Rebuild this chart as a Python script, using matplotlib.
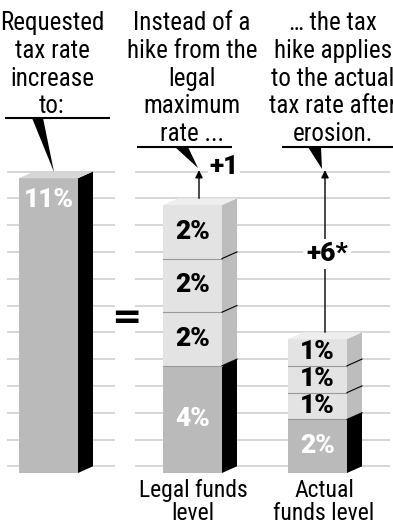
import matplotlib.pyplot as plt
from matplotlib.patches import Polygon

# values in percentage points
requested = [11]
legal_segments = [4, 2, 2, 2]
actual_segments = [2, 1, 1, 1]
gridline_levels = list(range(0, 12))

headers = [
    "Requested\ntax rate\nincrease\nto:",
    "Instead of a\nhike from the\nlegal\nmaximum\nrate ...",
    "\u2026 the tax\nhike applies\nto the actual\ntax rate after\nerosion.",
]
bottom_labels = ["Legal funds\nlevel", "Actual\nfunds level"]

# layout, figure in pixels, y axis in percent
W, H = 393, 524
BASE = 473
PX = 26.8
DX, DY = 15, 0.25
BAR_W = 59

DARK = '#bababa'
LIGHT = '#e3e3e3'
GRID = '#cfcfcf'

NARROW = ['Roboto Condensed', 'DejaVu Sans']
HEAVY = ['Roboto', 'DejaVu Sans']


def py(p):
    # pixel row -> percent units
    return (BASE - p) / PX


fig = plt.figure(figsize=(W / 100, H / 100), dpi=100)
ax = fig.add_axes([0, 0, 1, 1])
ax.set_xlim(0, W)
ax.set_ylim(py(H), py(0))
ax.axis('off')

# gridlines on the back wall
for k in gridline_levels:
    ax.plot([7, 115], [k + DY, k + DY], color=GRID, lw=1.2, zorder=1, solid_capstyle='butt')
    ax.plot([135, 390], [k + DY, k + DY], color=GRID, lw=1.2, zorder=1, solid_capstyle='butt')


def draw_stack(x0, segments, dark_first=True):
    bottom = 0
    for i, v in enumerate(segments):
        is_dark = dark_first and i == 0
        front = DARK if is_dark else LIGHT
        side = 'black' if is_dark else '#bdbdbd'
        ax.bar(x0, v, width=BAR_W, bottom=bottom, align='edge', color=front,
               lw=0, zorder=3)
        x1 = x0 + BAR_W
        ax.add_patch(Polygon([(x1, bottom), (x1 + DX, bottom + DY),
                              (x1 + DX, bottom + v + DY), (x1, bottom + v)],
                             closed=True, fc=side, ec='none', zorder=3))
        if i > 0:
            ax.plot([x0, x1], [bottom, bottom], color='#9a9a9a', lw=0.8, zorder=4)
            ax.plot([x1, x1 + DX], [bottom, bottom + DY], color='black', lw=0.8, zorder=4)
        # a lone tall bar carries its label near the top
        ly = bottom + v - 0.8 if len(segments) == 1 else bottom + v / 2
        ax.text(x0 + BAR_W / 2, ly, f"{v}%",
                color='white' if is_dark else 'black', fontsize=19,
                fontweight=900, family=HEAVY, ha='center', va='center', zorder=5)
        bottom += v
    top_col = '#d6d6d6' if len(segments) == 1 else '#eeeeee'
    ax.add_patch(Polygon([(x0, bottom), (x0 + BAR_W, bottom),
                          (x0 + BAR_W + DX, bottom + DY), (x0 + DX, bottom + DY)],
                         closed=True, fc=top_col, ec='none', zorder=3))
    return bottom


draw_stack(19, requested)
legal_top = draw_stack(163, legal_segments)
actual_top = draw_stack(288, actual_segments)

target = requested[0]

# arrows from the stack tops up to the requested level
for xa, top in [(199, legal_top), (325, actual_top)]:
    ax.annotate('', xy=(xa, target + DY + 0.05), xytext=(xa, top + DY),
                arrowprops=dict(arrowstyle='-|>', color='black', lw=1.0,
                                mutation_scale=11, shrinkA=0, shrinkB=0),
                zorder=6)

ax.text(224, py(167), f"+{target - legal_top}", fontsize=19, fontweight=900,
        family=HEAVY, ha='center', va='center', zorder=7,
        bbox=dict(fc='white', ec='none', pad=1))
ax.text(327, py(254), f"+{target - actual_top}*", fontsize=19, fontweight=900,
        family=HEAVY, ha='center', va='center', zorder=7,
        bbox=dict(fc='white', ec='none', pad=2))

# equals sign between the panels
ax.text(126, py(318), "=", fontsize=26, fontweight='bold', family='DejaVu Sans',
        ha='center', va='center', zorder=5)

# header texts
for xc, txt in zip([52, 192, 333], headers):
    ax.text(xc, py(11), txt, fontsize=18, family=NARROW, ha='center', va='top',
            linespacing=1.2, zorder=5)

# callout rules and pointer wedges
callouts = [
    ((5, 110), 118, [(32, 118), (43, 118), (54, 172)]),
    ((137, 232), 147, [(175, 147), (188, 147), (198, 168)]),
    ((282, 393), 147, [(308, 147), (321, 147), (322, 169)]),
]
for (xa, xb), yr, tri in callouts:
    ax.plot([xa, xb], [py(yr), py(yr)], color='black', lw=1.5, zorder=6,
            solid_capstyle='butt')
    ax.add_patch(Polygon([(x, py(y)) for x, y in tri], closed=True,
                         fc='black', ec='none', zorder=6))

# labels under the stacked bars
for xc, txt in zip([193, 324], bottom_labels):
    ax.text(xc, py(479), txt, fontsize=17, family=NARROW, ha='center', va='top',
            linespacing=0.98, zorder=5)

fig.savefig('out.png', dpi=100)
